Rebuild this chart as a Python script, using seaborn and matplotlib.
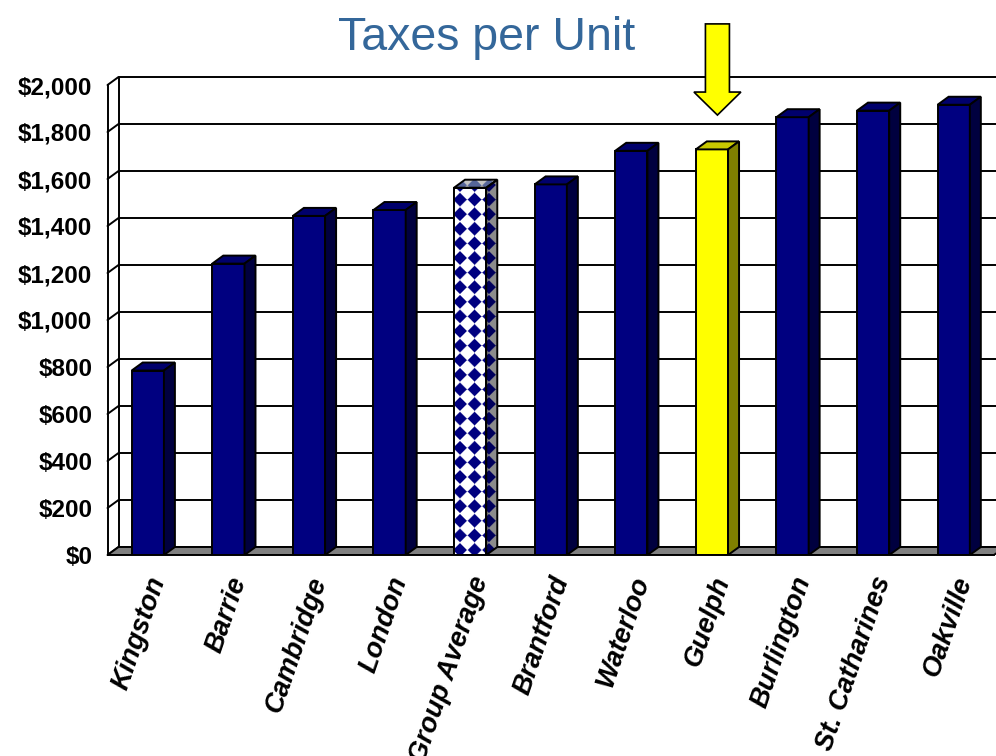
import numpy as np
import pandas as pd
import matplotlib
matplotlib.use("Agg")
import matplotlib.pyplot as plt
import matplotlib.transforms as mtransforms
from matplotlib.patches import Polygon, FancyArrow
import seaborn as sns

# ---- data -------------------------------------------------------------
cities = ["Kingston", "Barrie", "Cambridge", "London", "Group Average",
          "Brantford", "Waterloo", "Guelph", "Burlington", "St. Catharines",
          "Oakville"]
taxes = [785, 1240, 1443, 1468, 1563, 1577, 1720, 1726, 1863, 1891, 1916]
y_ticks = [0, 200, 400, 600, 800, 1000, 1200, 1400, 1600, 1800, 2000]
y_tick_labels = ["${:,}".format(v) for v in y_ticks]
title = "Taxes per Unit"
highlight = "Guelph"
average = "Group Average"

# ---- style ------------------------------------------------------------
NAVY = ("#000080", "#00006c", "#00003f")      # front, top, side
YELLOW = ("#ffff00", "#c8c800", "#808000")
AVG_BASE = ("#ffffff", "#c4c4c4", "#8c8c8c")
AVG_DOT = ("#000080", "#56669a", "#00005c")
TITLE_COLOR = "#34679a"
LW = 1.4

sns.set_style("white")
plt.rcParams["font.family"] = ["Liberation Sans", "DejaVu Sans"]

W, H = 996, 756
fig = plt.figure(figsize=(W / 100, H / 100), dpi=100)

# plot box geometry (pixels)
n = len(cities)
x_left_px, x_right_px = 107.5, 994.0
y0_px = 555.0
px_per_dollar = 0.235
px_per_cat = (x_right_px - x_left_px) / n
depth_x = 11.0 / px_per_cat          # receding depth, category units
depth_y = 8.0 / px_per_dollar        # receding depth, dollars
xmin, xmax = -0.5, n - 0.5 + 0.2
ymin, ymax = 0, 2050

ax = fig.add_axes([x_left_px / W, (H - y0_px) / H,
                   (xmax - xmin) * px_per_cat / W,
                   (ymax - ymin) * px_per_dollar / H])

df = pd.DataFrame({"city": cities, "tax": taxes})
front_colors = {c: NAVY[0] for c in cities}
front_colors[highlight] = YELLOW[0]
front_colors[average] = AVG_BASE[0]

sns.barplot(data=df, x="city", y="tax", hue="city", palette=front_colors,
            legend=False, width=0.4, saturation=1, edgecolor="black",
            linewidth=LW, zorder=3, ax=ax)
bars = list(ax.patches)

ax.set_xlim(xmin, xmax)
ax.set_ylim(ymin, ymax)
ax.set_autoscale_on(False)
ax.set_xlabel("")
ax.set_ylabel("")

# ---- box: back wall, left wall, floor ----------------------------------
wall_x0 = xmin + depth_x
for v in y_ticks:
    ax.plot([wall_x0, xmax], [v + depth_y] * 2, color="black", lw=LW,
            zorder=0.5, solid_capstyle="butt")
    ax.plot([xmin, wall_x0], [v, v + depth_y], color="black", lw=LW,
            zorder=0.6, clip_on=False)
ax.plot([wall_x0, wall_x0], [depth_y, y_ticks[-1] + depth_y], color="black",
        lw=LW, zorder=0.6)
floor = Polygon([(xmin, 0), (n - 0.5, 0), (n - 0.5 + depth_x, depth_y),
                 (wall_x0, depth_y)], closed=True, facecolor="#808080",
                edgecolor="black", lw=LW, zorder=1)
ax.add_patch(floor)


def diamond_fill(verts, base, dot, origin_px, period=14.6, radius=6.9, z=3.5):
    """Fill a polygon (data coords) with a grid of diamonds."""
    patch = Polygon(verts, closed=True, facecolor="none", edgecolor="none")
    ax.add_patch(patch)
    xs = [p[0] for p in verts]
    ys = [p[1] for p in verts]
    xa, xb, ya, yb = min(xs), max(xs), min(ys), max(ys)
    (pxa, pya), (pxb, pyb) = ax.transData.transform([(xa, ya), (xb, yb)])
    wpx = max(int(np.ceil(pxb - pxa)), 1)
    hpx = max(int(np.ceil(pyb - pya)), 1)
    u = pxa + np.arange(wpx) + 0.5
    v = pya + np.arange(hpx) + 0.5
    uu, vv = np.meshgrid(u, v)
    du = ((uu - origin_px[0] + period / 2) % period) - period / 2
    dv = ((vv - origin_px[1] + period / 2) % period) - period / 2
    dist = np.abs(du) + np.abs(dv)
    a = np.clip((radius - dist) / 1.6 + 0.5, 0, 1)[..., None]
    b = np.array(matplotlib.colors.to_rgb(base))
    d = np.array(matplotlib.colors.to_rgb(dot))
    img = b * (1 - a) + d * a
    im = ax.imshow(img, extent=(xa, xb, ya, yb), origin="lower",
                   aspect="auto", interpolation="bilinear", zorder=z)
    im.set_clip_path(patch)
    ax.add_patch(Polygon(verts, closed=True, facecolor="none",
                         edgecolor="black", lw=LW, zorder=z + 0.1))


# ---- 3-D faces on each bar ---------------------------------------------
for bar in bars:
    i = int(round(bar.get_x() + bar.get_width() / 2))
    city = cities[i]
    x0 = bar.get_x()
    x1 = x0 + bar.get_width()
    h = bar.get_height()
    top = [(x0, h), (x1, h), (x1 + depth_x, h + depth_y), (x0 + depth_x, h + depth_y)]
    side = [(x1, 0), (x1 + depth_x, depth_y), (x1 + depth_x, h + depth_y), (x1, h)]
    if city == average:
        org = ax.transData.transform((x0, 0)) + np.array([6.0, 5.0])
        front = [(x0, 0), (x1, 0), (x1, h), (x0, h)]
        diamond_fill(front, AVG_BASE[0], AVG_DOT[0], org, z=3.4)
        diamond_fill(side, AVG_BASE[2], AVG_DOT[2], org, z=3.5)
        diamond_fill(top, AVG_BASE[1], AVG_DOT[1], org, z=3.5)
        continue
    faces = YELLOW if city == highlight else NAVY
    ax.add_patch(Polygon(top, closed=True, facecolor=faces[1],
                         edgecolor="black", lw=LW, zorder=3.5))
    ax.add_patch(Polygon(side, closed=True, facecolor=faces[2],
                         edgecolor="black", lw=LW, zorder=3.5))

# ---- pointer arrow above the highlighted city ---------------------------
hi = cities.index(highlight)
arrow_gap, arrow_len = 146, 388
tip = taxes[hi] + arrow_gap
ax.add_patch(FancyArrow(hi + depth_x / 2, tip + arrow_len, 0, -arrow_len,
                        width=0.298, head_width=0.583, head_length=98,
                        length_includes_head=True, facecolor="#ffff00",
                        edgecolor="black", lw=1.2, clip_on=False, zorder=6))

# ---- axes, ticks, labels -----------------------------------------------
for s in ("top", "right"):
    ax.spines[s].set_visible(False)
for s in ("left", "bottom"):
    ax.spines[s].set_color("black")
    ax.spines[s].set_linewidth(LW)
    ax.spines[s].set_zorder(7)
ax.spines["left"].set_bounds(0, y_ticks[-1])
ax.spines["bottom"].set_bounds(-0.5, n - 0.5)

ax.set_yticks(y_ticks, labels=y_tick_labels, fontweight="bold", fontsize=17.5)
ax.tick_params(axis="y", direction="out", length=8, width=LW, color="black",
               pad=3, labelcolor="black")

ax.set_xticks(range(n), labels=cities, rotation=71, ha="right",
              rotation_mode="anchor", fontweight="bold", fontstyle="italic",
              fontsize=19.5)
ax.set_xticks(np.arange(n + 1) - 0.5, minor=True)
ax.tick_params(axis="x", which="major", length=0, pad=13, labelcolor="black")
ax.tick_params(axis="x", which="minor", length=9, width=LW, color="black",
               direction="out")
shift = mtransforms.ScaledTranslation(-1 / 72, 0, fig.dpi_scale_trans)
for lbl in ax.get_xticklabels():
    lbl.set_transform(lbl.get_transform() + shift)

fig.text(0.489, (H - 50) / H, title, fontsize=33.5, color=TITLE_COLOR,
         ha="center", va="baseline")

fig.savefig("out.png", dpi=100)
